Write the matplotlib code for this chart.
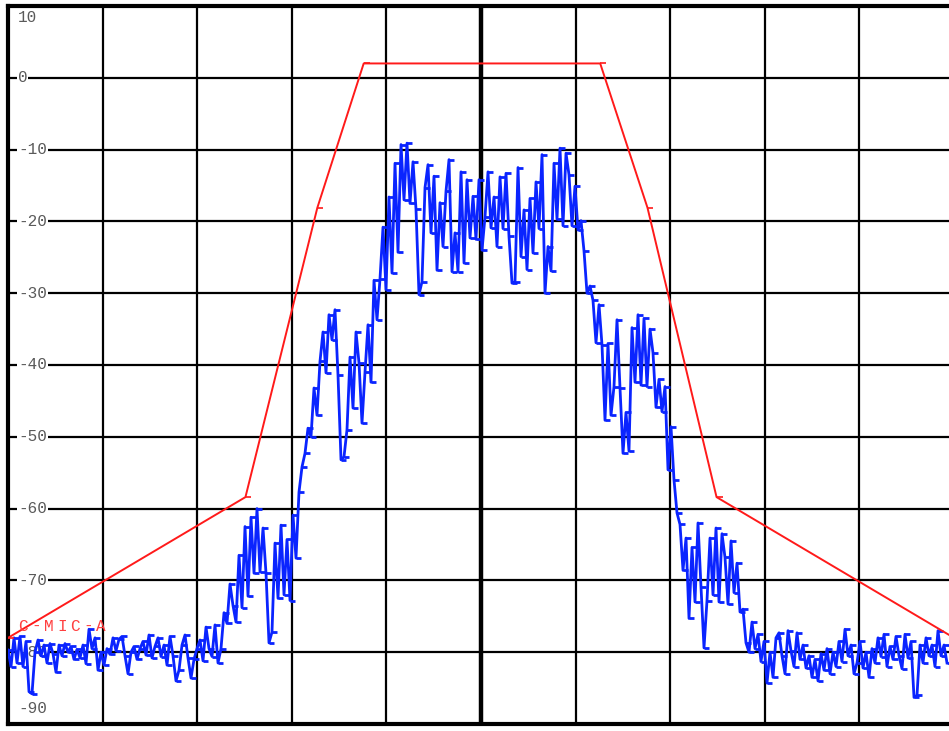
import numpy as np
import matplotlib
matplotlib.use('Agg')
import matplotlib.pyplot as plt
import matplotlib.transforms as mtransforms

# screen is 10 divisions wide, dB scale from -90 to +10
mask_x = [0.0, 2.51, 3.27, 3.76, 6.26, 6.76, 7.49, 10.0]
mask_db = [-78.0, -58.4, -18.1, 2.0, 2.0, -18.1, -58.4, -78.0]

trace_db = [
    -79.7, -82.0, -78.0, -81.5, -77.8, -82.0, -78.5, -85.5, -85.8, -80.0,
    -78.3, -80.5, -79.0, -81.5, -78.8, -80.2, -82.8, -79.0, -80.5, -78.8,
    -80.0, -79.2, -81.0, -79.6, -80.8, -79.0, -81.6, -76.8, -79.5, -78.0,
    -82.5, -80.0, -81.8, -79.5, -80.3, -78.0, -79.8, -78.2, -77.8, -80.5,
    -83.0, -80.0, -79.2, -81.0, -79.5, -78.5, -80.4, -77.6, -80.8, -79.2,
    -78.0, -80.6, -79.0, -81.8, -77.8, -80.5, -84.0, -82.5, -79.0, -77.6,
    -80.8, -83.6, -81.0, -79.5, -78.3, -81.2, -76.5, -79.5, -80.6, -76.2,
    -81.5, -79.5, -74.5, -76.0, -70.5, -73.5, -75.8, -66.5, -73.8, -62.5,
    -72.2, -61.2, -69.0, -60.0, -68.8, -62.7, -69.0, -78.7, -77.2, -64.8,
    -72.5, -62.3, -72.0, -64.3, -72.8, -60.9, -66.9, -57.7, -54.2, -52.3,
    -48.8, -50.0, -43.2, -47.0, -39.5, -35.4, -41.1, -33.0, -36.5, -32.3,
    -41.4, -53.2, -52.8, -49.0, -38.9, -46.0, -35.4, -39.7, -48.1, -41.0,
    -34.4, -42.4, -28.2, -33.7, -28.0, -20.8, -29.5, -16.6, -27.2, -11.9,
    -24.3, -9.3, -17.0, -9.1, -17.5, -11.7, -18.3, -30.2, -28.4, -15.3,
    -12.1, -21.6, -13.7, -26.8, -17.4, -23.5, -15.8, -11.4, -27.0, -21.6,
    -27.0, -13.1, -25.8, -14.2, -22.3, -16.5, -22.5, -14.2, -24.0, -19.4,
    -13.1, -20.9, -16.6, -23.5, -13.8, -21.0, -13.3, -22.1, -28.6, -28.4,
    -12.5, -24.9, -18.4, -26.7, -16.8, -24.4, -14.5, -21.0, -10.7, -30.0,
    -23.5, -26.9, -11.9, -19.7, -9.8, -20.6, -10.5, -13.5, -20.6, -15.1,
    -21.2, -19.9, -24.1, -30.0, -29.0, -31.0, -36.9, -31.6, -37.2, -47.7,
    -37.0, -47.0, -43.0, -33.7, -43.2, -52.3, -46.6, -52.0, -34.8, -42.4,
    -33.0, -42.8, -33.5, -43.0, -35.0, -38.3, -45.9, -42.0, -46.5, -43.0,
    -54.6, -48.6, -56.0, -60.6, -62.2, -68.6, -64.1, -75.3, -65.4, -73.0,
    -62.0, -70.9, -79.4, -72.8, -64.1, -72.0, -62.7, -73.0, -63.5, -66.8,
    -73.3, -64.5, -71.7, -67.6, -74.4, -74.0, -78.7, -80.0, -75.8, -79.5,
    -77.5, -81.3, -78.5, -84.3, -80.0, -83.5, -78.0, -77.3, -80.5, -83.0,
    -77.0, -79.8, -82.0, -77.3, -81.0, -79.0, -82.2, -80.5, -83.5, -81.0,
    -84.0, -80.2, -82.5, -79.5, -83.0, -80.0, -82.0, -78.5, -81.3, -76.8,
    -80.5, -79.0, -83.0, -81.5, -78.5, -82.2, -80.0, -83.5, -79.5, -81.5,
    -78.0, -80.6, -77.5, -82.0, -79.2, -81.0, -77.8, -80.5, -82.3, -77.5,
    -80.8, -78.5, -86.3, -86.0, -79.0, -81.5, -78.0, -80.5, -79.0, -82.0,
    -77.0, -80.5, -79.0, -81.5,
]

y_labels = ['10', '0', '-10', '-20', '-30', '-40', '-50', '-60', '-70', '-80', '-90']
y_label_pos = [8.4, 0, -10, -20, -30, -40, -50, -60, -70, -80, -87.8]

mask_label = 'C-MIC-A'

W, H = 949, 731
fig = plt.figure(figsize=(W / 100.0, H / 100.0), dpi=100)
ax = fig.add_axes([8 / W, 7 / H, (W - 8) / W, 718 / H])

x_end = 941 / 94.6
ax.set_xlim(0, x_end)
ax.set_ylim(-90, 10)

# graticule
for d in range(1, 10):
    ax.axvline(d, color='k', linewidth=3.2 if d == 5 else 1.6, zorder=1)
for db in range(0, -90, -10):
    ax.axhline(db, color='k', linewidth=1.6, zorder=1)

ax.set_xticks([])
ax.set_yticks([])
ax.spines['right'].set_visible(False)
for s in ('left', 'top', 'bottom'):
    ax.spines[s].set_linewidth(3.0)
    ax.spines[s].set_color('k')

# level labels inside the screen
trans = mtransforms.blended_transform_factory(ax.transAxes, ax.transData)
for lab, pos in zip(y_labels, y_label_pos):
    ax.text(10 / 941, pos, lab, transform=trans, ha='left', va='center',
            family='Liberation Mono', fontsize=11.5, color='#5a5a5a',
            bbox=dict(facecolor='white', edgecolor='none', pad=0.5), zorder=2)

# measured trace, each sample gets a little tick like the analyser draws
tx = np.linspace(0, (947 - 8) / 94.6, len(trace_db))
ax.plot(tx, trace_db, color='#0a24ff', linewidth=2.0, zorder=3,
        marker=1, markersize=3.5, markeredgewidth=2.0)

# limit mask
ax.plot(mask_x, mask_db, color='#ff1a1a', linewidth=1.4, zorder=4,
        marker=1, markersize=4, markeredgewidth=1.2)

for i, ch in enumerate(mask_label):
    ax.text((10 + 13 * i) / 941, -76.4, ch, transform=trans, ha='left',
            va='center', family='Liberation Mono', fontsize=11.5,
            color='#ff4040', zorder=5)

fig.savefig('out.png', dpi=100, facecolor='white')
